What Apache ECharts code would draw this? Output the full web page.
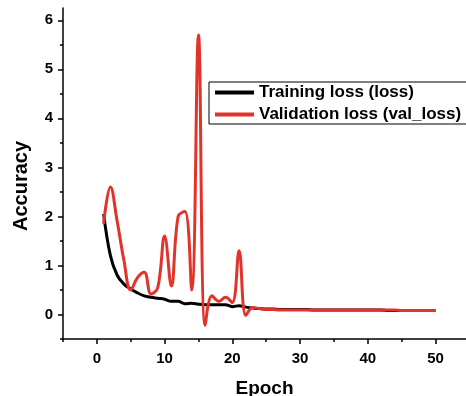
<!DOCTYPE html>
<html>
<head>
<meta charset="utf-8">
<script src="https://cdn.jsdelivr.net/npm/echarts@6/dist/echarts.min.js"></script>
<style>html,body{margin:0;padding:0;background:#fff;}#c{width:466px;height:396px;}</style>
</head>
<body>
<div id="c"></div>
<script>
var epochs = [1,2,3,4,5,6,7,8,9,10,11,12,13,14,15,16,17,18,19,20,21,22,23,24,25,26,27,28,29,30,31,32,33,34,35,36,37,38,39,40,41,42,43,44,45,46,47,48,49,50];
var trainLoss = [2.05,1.2,0.8,0.62,0.52,0.44,0.38,0.35,0.33,0.31,0.27,0.27,0.22,0.23,0.21,0.2,0.2,0.2,0.2,0.16,0.18,0.15,0.13,0.12,0.11,0.11,0.1,0.1,0.1,0.1,0.1,0.09,0.09,0.09,0.09,0.09,0.09,0.09,0.09,0.09,0.09,0.09,0.08,0.08,0.08,0.08,0.08,0.08,0.08,0.08];
var valLoss = [1.85,2.6,1.9,1.1,0.5,0.75,0.86,0.42,0.55,1.6,0.58,2.0,2.1,0.5,5.7,-0.22,0.38,0.27,0.35,0.24,1.3,-0.02,0.14,0.12,0.1,0.1,0.09,0.09,0.09,0.09,0.09,0.09,0.09,0.09,0.09,0.09,0.09,0.09,0.09,0.09,0.09,0.09,0.09,0.09,0.08,0.08,0.08,0.08,0.08,0.08];
var xMajor = [0,10,20,30,40,50];
var xMinor = [-5,5,15,25,35,45];
var yMajor = [0,1,2,3,4,5,6];
var yMinor = [-0.5,0.5,1.5,2.5,3.5,4.5,5.5];
var seriesNames = ['Training loss (loss)', 'Validation loss (val_loss)'];
var xTitle = 'Epoch';
var yTitle = 'Accuracy';

function pairs(xs, ys){ return xs.map(function(x,i){ return [x, ys[i]]; }); }
var FONT = '"Liberation Sans", Arial, sans-serif';
var chart = echarts.init(document.getElementById('c'), null, {renderer:'canvas'});
var X_MIN = -5, X_MAX = 54.5, Y_MIN = -0.5, Y_MAX = 6.25;
function tickAxis(kind, values, len){
  return {
    type:'value', min: kind==='x'?X_MIN:Y_MIN, max: kind==='x'?X_MAX:Y_MAX,
    position: kind==='x'?'bottom':'left',
    axisLine:{show:false, onZero:false}, splitLine:{show:false}, axisLabel:{show:false},
    axisTick:{show:true, inside:false, length:len, customValues:values, lineStyle:{color:'#000', width:1.5}}
  };
}
chart.setOption({
  animation:false,
  backgroundColor:'#fff',
  grid:{left:63, top:8, width:403, height:331, containLabel:false, outerBoundsMode:'none'},
  legend:{
    data:seriesNames, orient:'vertical', left:209, top:82,
    borderColor:'#000', borderWidth:1, borderRadius:0,
    padding:[2,7,1,6], itemGap:5, itemWidth:39, itemHeight:4, icon:'rect',
    textStyle:{fontFamily:FONT, fontWeight:'bold', fontSize:17, color:'#000'}
  },
  graphic:[{
    type:'text', x:21, y:186, rotation:Math.PI/2,
    style:{text:yTitle, fontFamily:FONT, fontWeight:'bold', fontSize:20, fill:'#000', align:'center', verticalAlign:'middle'}
  }],
  xAxis:[{
    type:'value', min:X_MIN, max:X_MAX, position:'bottom',
    name:xTitle, nameLocation:'middle', nameGap:40,
    nameTextStyle:{fontFamily:FONT, fontWeight:'bold', fontSize:19, color:'#000'},
    axisLine:{show:true, onZero:false, lineStyle:{color:'#000', width:1.5}}, splitLine:{show:false},
    axisTick:{show:false},
    axisLabel:{customValues:xMajor, margin:12, fontFamily:FONT, fontWeight:'bold', fontSize:15, color:'#000'}
  }, tickAxis('x', xMajor, 5), tickAxis('x', xMinor, 3)],
  yAxis:[{
    type:'value', min:Y_MIN, max:Y_MAX, position:'left',
    axisLine:{show:true, onZero:false, lineStyle:{color:'#000', width:1.5}}, splitLine:{show:false},
    axisTick:{show:false},
    axisLabel:{customValues:yMajor, margin:10, fontFamily:FONT, fontWeight:'bold', fontSize:15, color:'#000'}
  }, tickAxis('y', yMajor, 5), tickAxis('y', yMinor, 3)],
  series:[{
    name:seriesNames[0], type:'line', data:pairs(epochs, trainLoss), smooth:0.4,
    showSymbol:false, symbol:'none', color:'#000', lineStyle:{color:'#000', width:3}, z:2
  },{
    name:seriesNames[1], type:'line', data:pairs(epochs, valLoss), smooth:0.4,
    showSymbol:false, symbol:'none', color:'#e2332a', lineStyle:{color:'#e2332a', width:3}, z:3
  }]
});
</script>
</body>
</html>
